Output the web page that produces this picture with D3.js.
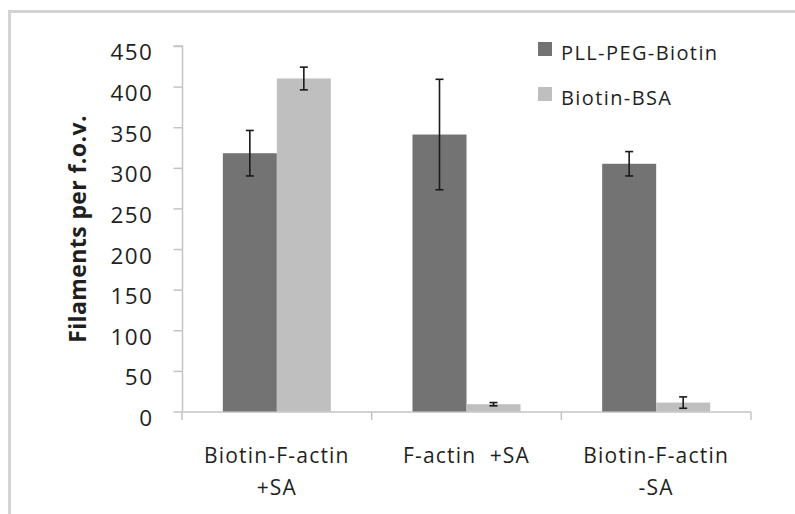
<!DOCTYPE html>
<html>
<head>
<meta charset="utf-8">
<script src="https://cdn.jsdelivr.net/npm/d3@7/dist/d3.min.js"></script>
<style>
  body { margin: 0; background: #fff; }
  text { font-family: "Open Sans", sans-serif; fill: #1f1f1f; }
</style>
</head>
<body>
<script>
const categories = [["Biotin-F-actin", "+SA"], ["F-actin  +SA"], ["Biotin-F-actin", "-SA"]];
const series = ["PLL-PEG-Biotin", "Biotin-BSA"];
const means = [[318, 410], [341, 9], [305, 11]];
const errors = [[28, 14], [68, 2], [15, 7]];
const yTicks = [0, 50, 100, 150, 200, 250, 300, 350, 400, 450];
const colors = ["#737373", "#bfbfbf"];

const width = 795, height = 514;

const svg = d3.select("body").append("svg")
    .attr("width", width)
    .attr("height", height);

// outer frame, cut off at right and bottom
svg.append("path")
    .attr("d", "M9.5," + height + "V11.5H" + width)
    .attr("fill", "none")
    .attr("stroke", "#d3d3d3")
    .attr("stroke-width", 3);

const catKeys = categories.map(d => d.join(" "));
let x0 = d3.scaleBand().domain(catKeys).range([182, 751]);
let x1 = d3.scaleBand().domain(series).range([0, x0.bandwidth()]).paddingOuter(0.756);
let y = d3.scaleLinear().domain([0, 450]).range([411.5, 46]);

// y axis
const yAxis = svg.append("g")
    .attr("transform", "translate(182.5,0)")
    .call(d3.axisLeft(y).tickValues(yTicks).tickSize(9).tickPadding(20));
yAxis.select(".domain").attr("stroke", "#c4c4c4").attr("stroke-width", 1.5).attr("d", "M-9," + y(450) + "H0V" + y(0));
yAxis.selectAll(".tick line").attr("stroke", "#c4c4c4").attr("stroke-width", 1.5);
yAxis.selectAll(".tick text")
    .attr("font-size", 22.5)
    .attr("letter-spacing", 1.5)
    .attr("dy", "0.62em")
    .style("font-family", "'Open Sans', sans-serif")
    .attr("fill", "#1a1a1a");

// x axis
const xAxis = svg.append("g").attr("transform", "translate(0," + (y(0) + 0.5) + ")");
xAxis.append("line")
    .attr("x1", 182).attr("x2", x0.range()[1])
    .attr("stroke", "#c4c4c4").attr("stroke-width", 1.5);
const bounds = x0.domain().map(d => x0(d)).concat([x0.range()[1]]);
xAxis.selectAll(".xt").data(bounds).enter().append("line")
    .attr("x1", d => d).attr("x2", d => d)
    .attr("y1", 0).attr("y2", 8)
    .attr("stroke", "#c4c4c4").attr("stroke-width", 1.5);

categories.forEach(function(lines, i) {
  const cx = x0(catKeys[i]) + x0.bandwidth() / 2;
  const t = svg.append("text")
      .attr("text-anchor", "middle")
      .attr("font-size", 21)
      .attr("letter-spacing", 1.2)
      .style("white-space", "pre");
  lines.forEach(function(s, j) {
    t.append("tspan").attr("x", cx).attr("y", 463 + j * 32).text(s);
  });
});

// bars
const groups = svg.selectAll(".grp").data(means).enter().append("g")
    .attr("transform", (d, i) => "translate(" + x0(catKeys[i]) + ",0)");
groups.selectAll("rect").data(d => d).enter().append("rect")
    .attr("x", (d, j) => x1(series[j]))
    .attr("width", x1.bandwidth())
    .attr("y", d => y(d))
    .attr("height", d => y(0) - y(d))
    .attr("fill", (d, j) => colors[j]);

// error bars
means.forEach(function(row, i) {
  row.forEach(function(m, j) {
    const cx = x0(catKeys[i]) + x1(series[j]) + x1.bandwidth() / 2;
    const e = errors[i][j];
    const g = svg.append("g").attr("stroke", "#1a1a1a").attr("stroke-width", 1.6);
    g.append("line").attr("x1", cx).attr("x2", cx).attr("y1", y(m + e)).attr("y2", y(m - e));
    [m + e, m - e].forEach(v => {
      g.append("line").attr("x1", cx - 4).attr("x2", cx + 4).attr("y1", y(v)).attr("y2", y(v));
    });
  });
});

// y label
svg.append("text")
    .attr("transform", "translate(86,229) rotate(-90)")
    .attr("text-anchor", "middle")
    .attr("font-size", 23)
    .attr("font-weight", "bold")
    .attr("letter-spacing", 0.4)
    .text("Filaments per f.o.v.");

// legend
const legend = svg.selectAll(".leg").data(series).enter().append("g")
    .attr("transform", (d, i) => "translate(538," + (42 + i * 45) + ")");
legend.append("rect").attr("width", 14).attr("height", 14).attr("fill", (d, i) => colors[i]);
legend.append("text")
    .attr("x", 23).attr("y", 18)
    .attr("font-size", 20)
    .attr("letter-spacing", 1.4)
    .text(d => d);
</script>
</body>
</html>
